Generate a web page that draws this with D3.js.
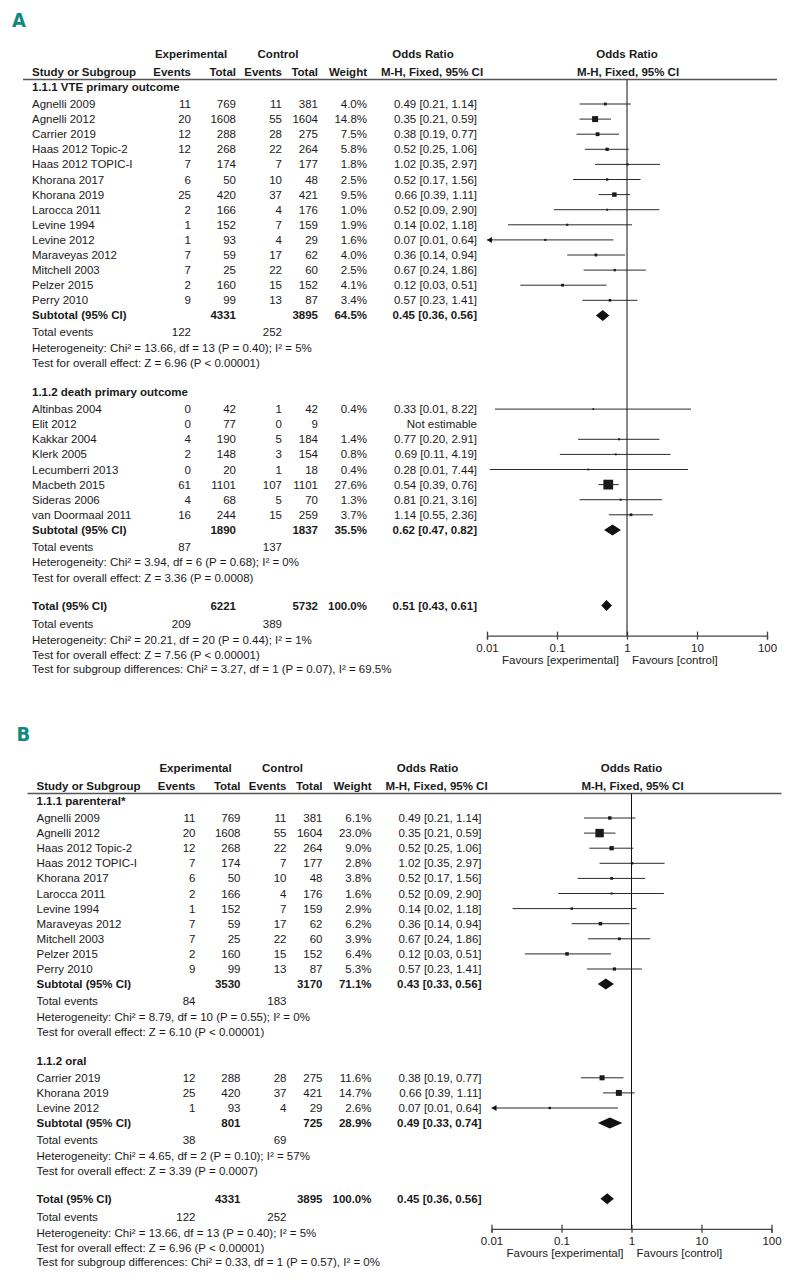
<!DOCTYPE html>
<html>
<head>
<meta charset="utf-8">
<script src="https://cdn.jsdelivr.net/npm/d3@7"></script>
<style>
  body { margin: 0; background: #fff; }
  svg text { font-family: "Liberation Sans", Arial, sans-serif; font-size: 11.5px; fill: #1a1a1a; }
</style>
</head>
<body>
<div id="chart"></div>
<script>
// study rows: name, exp events, exp total, ctrl events, ctrl total, weight %, OR, lower, upper
const vteStudies = [
  ["Agnelli 2009", 11, 769, 11, 381, 4.0, 0.49, 0.21, 1.14],
  ["Agnelli 2012", 20, 1608, 55, 1604, 14.8, 0.35, 0.21, 0.59],
  ["Carrier 2019", 12, 288, 28, 275, 7.5, 0.38, 0.19, 0.77],
  ["Haas 2012 Topic-2", 12, 268, 22, 264, 5.8, 0.52, 0.25, 1.06],
  ["Haas 2012 TOPIC-I", 7, 174, 7, 177, 1.8, 1.02, 0.35, 2.97],
  ["Khorana 2017", 6, 50, 10, 48, 2.5, 0.52, 0.17, 1.56],
  ["Khorana 2019", 25, 420, 37, 421, 9.5, 0.66, 0.39, 1.11],
  ["Larocca 2011", 2, 166, 4, 176, 1.0, 0.52, 0.09, 2.90],
  ["Levine 1994", 1, 152, 7, 159, 1.9, 0.14, 0.02, 1.18],
  ["Levine 2012", 1, 93, 4, 29, 1.6, 0.068, 0.007, 0.64],
  ["Maraveyas 2012", 7, 59, 17, 62, 4.0, 0.36, 0.14, 0.94],
  ["Mitchell 2003", 7, 25, 22, 60, 2.5, 0.67, 0.24, 1.86],
  ["Pelzer 2015", 2, 160, 15, 152, 4.1, 0.12, 0.03, 0.51],
  ["Perry 2010", 9, 99, 13, 87, 3.4, 0.57, 0.23, 1.41]
];
const vteSubtotal = [4331, 3895, 64.5, 0.45, 0.36, 0.56];
const vteEvents = [122, 252];
const vteStats = ["Heterogeneity: Chi² = 13.66, df = 13 (P = 0.40); I² = 5%",
                  "Test for overall effect: Z = 6.96 (P < 0.00001)"];

const deathStudies = [
  ["Altinbas 2004", 0, 42, 1, 42, 0.4, 0.33, 0.013, 8.22],
  ["Elit 2012", 0, 77, 0, 9, null, null, null, null],
  ["Kakkar 2004", 4, 190, 5, 184, 1.4, 0.77, 0.20, 2.91],
  ["Klerk 2005", 2, 148, 3, 154, 0.8, 0.69, 0.11, 4.19],
  ["Lecumberri 2013", 0, 20, 1, 18, 0.4, 0.28, 0.011, 7.44],
  ["Macbeth 2015", 61, 1101, 107, 1101, 27.6, 0.54, 0.39, 0.76],
  ["Sideras 2006", 4, 68, 5, 70, 1.3, 0.81, 0.21, 3.16],
  ["van Doormaal 2011", 16, 244, 15, 259, 3.7, 1.14, 0.55, 2.36]
];
const deathSubtotal = [1890, 1837, 35.5, 0.62, 0.47, 0.82];
const deathEvents = [87, 137];
const deathStats = ["Heterogeneity: Chi² = 3.94, df = 6 (P = 0.68); I² = 0%",
                    "Test for overall effect: Z = 3.36 (P = 0.0008)"];

const totalA = [6221, 5732, 100.0, 0.51, 0.43, 0.61];
const totalEventsA = [209, 389];
const totalStatsA = ["Heterogeneity: Chi² = 20.21, df = 20 (P = 0.44); I² = 1%",
                     "Test for overall effect: Z = 7.56 (P < 0.00001)",
                     "Test for subgroup differences: Chi² = 3.27, df = 1 (P = 0.07), I² = 69.5%"];

const parenteralStudies = [
  ["Agnelli 2009", 11, 769, 11, 381, 6.1, 0.49, 0.21, 1.14],
  ["Agnelli 2012", 20, 1608, 55, 1604, 23.0, 0.35, 0.21, 0.59],
  ["Haas 2012 Topic-2", 12, 268, 22, 264, 9.0, 0.52, 0.25, 1.06],
  ["Haas 2012 TOPIC-I", 7, 174, 7, 177, 2.8, 1.02, 0.35, 2.97],
  ["Khorana 2017", 6, 50, 10, 48, 3.8, 0.52, 0.17, 1.56],
  ["Larocca 2011", 2, 166, 4, 176, 1.6, 0.52, 0.09, 2.90],
  ["Levine 1994", 1, 152, 7, 159, 2.9, 0.14, 0.02, 1.18],
  ["Maraveyas 2012", 7, 59, 17, 62, 6.2, 0.36, 0.14, 0.94],
  ["Mitchell 2003", 7, 25, 22, 60, 3.9, 0.67, 0.24, 1.86],
  ["Pelzer 2015", 2, 160, 15, 152, 6.4, 0.12, 0.03, 0.51],
  ["Perry 2010", 9, 99, 13, 87, 5.3, 0.57, 0.23, 1.41]
];
const parenteralSubtotal = [3530, 3170, 71.1, 0.43, 0.33, 0.56];
const parenteralEvents = [84, 183];
const parenteralStats = ["Heterogeneity: Chi² = 8.79, df = 10 (P = 0.55); I² = 0%",
                         "Test for overall effect: Z = 6.10 (P < 0.00001)"];

const oralStudies = [
  ["Carrier 2019", 12, 288, 28, 275, 11.6, 0.38, 0.19, 0.77],
  ["Khorana 2019", 25, 420, 37, 421, 14.7, 0.66, 0.39, 1.11],
  ["Levine 2012", 1, 93, 4, 29, 2.6, 0.068, 0.007, 0.64]
];
const oralSubtotal = [801, 725, 28.9, 0.49, 0.33, 0.74];
const oralEvents = [38, 69];
const oralStats = ["Heterogeneity: Chi² = 4.65, df = 2 (P = 0.10); I² = 57%",
                   "Test for overall effect: Z = 3.39 (P = 0.0007)"];

const totalB = [4331, 3895, 100.0, 0.45, 0.36, 0.56];
const totalEventsB = [122, 252];
const totalStatsB = ["Heterogeneity: Chi² = 13.66, df = 13 (P = 0.40); I² = 5%",
                     "Test for overall effect: Z = 6.96 (P < 0.00001)",
                     "Test for subgroup differences: Chi² = 0.33, df = 1 (P = 0.57), I² = 0%"];

const axisTicks = [0.01, 0.1, 1, 10, 100];
const axisLabels = ["0.01", "0.1", "1", "10", "100"];

const panelA = {
  label: "A",
  groups: [
    {title: "1.1.1 VTE primary outcome", studies: vteStudies, subtotal: vteSubtotal, events: vteEvents, stats: vteStats},
    {title: "1.1.2 death primary outcome", studies: deathStudies, subtotal: deathSubtotal, events: deathEvents, stats: deathStats}
  ],
  total: totalA, totalEvents: totalEventsA, totalStats: totalStatsA
};
const panelB = {
  label: "B",
  groups: [
    {title: "1.1.1 parenteral*", studies: parenteralStudies, subtotal: parenteralSubtotal, events: parenteralEvents, stats: parenteralStats},
    {title: "1.1.2 oral", studies: oralStudies, subtotal: oralSubtotal, events: oralEvents, stats: oralStats}
  ],
  total: totalB, totalEvents: totalEventsB, totalStats: totalStatsB
};

var svg = d3.select("#chart")
  .append("svg")
    .attr("width", 789)
    .attr("height", 1284);
svg.append("rect").attr("width", 789).attr("height", 1284).attr("fill", "#fff");

var fmt2 = d3.format(".2f"), fmtW = d3.format(".1f");
var col = {name: 32, expEv: 191, expTot: 236, ctrlEv: 282, ctrlTot: 318, weight: 367, ci: 477};

function ciText(or, lo, hi) {
  return fmt2(or) + " [" + fmt2(lo) + ", " + fmt2(hi) + "]";
}

function drawPanel(p, dx, dy) {
  var g = svg.append("g").attr("transform", `translate(${dx}, ${dy})`);

  var x = d3.scaleLog().domain([0.01, 100]).range([487, 767]);
  var size = d3.scaleLinear().domain([0, 30]).range([1.6, 10.5]);

  function txt(str, xx, yy, anchor, bold) {
    g.append("text")
      .attr("x", xx).attr("y", yy).attr("dy", "0.35em")
      .attr("text-anchor", anchor || "start")
      .attr("font-weight", bold ? "bold" : null)
      .text(str);
  }

  // panel letter
  g.append("text")
    .attr("x", 12).attr("y", 27)
    .style("font-family", "'DejaVu Sans Condensed', 'DejaVu Sans', sans-serif")
    .style("font-size", "20px").style("font-weight", "bold")
    .style("fill", "#11897f")
    .text(p.label);

  // header
  txt("Experimental", 191, 54, "middle", true);
  txt("Control", 278, 54, "middle", true);
  txt("Odds Ratio", 423, 54, "middle", true);
  txt("Odds Ratio", 627, 54, "middle", true);
  txt("Study or Subgroup", col.name, 72, "start", true);
  txt("Events", col.expEv, 72, "end", true);
  txt("Total", col.expTot, 72, "end", true);
  txt("Events", col.ctrlEv, 72, "end", true);
  txt("Total", col.ctrlTot, 72, "end", true);
  txt("Weight", col.weight, 72, "end", true);
  txt("M-H, Fixed, 95% CI", 432, 72, "middle", true);
  txt("M-H, Fixed, 95% CI", 628, 72, "middle", true);
  g.append("line")
    .attr("x1", 23).attr("x2", 777).attr("y1", 79.5).attr("y2", 79.5)
    .attr("stroke", "#555").attr("stroke-width", 1.3);

  function summaryRow(label, s, y) {
    txt(label, col.name, y, "start", true);
    txt(s[0], col.expTot, y, "end", true);
    txt(s[1], col.ctrlTot, y, "end", true);
    txt(fmtW(s[2]) + "%", col.weight, y, "end", true);
    txt(ciText(s[3], s[4], s[5]), col.ci, y, "end", true);
    var h = 5.5;
    g.append("path")
      .attr("d", d3.line()([[x(s[4]), y], [x(s[3]), y - h], [x(s[5]), y], [x(s[3]), y + h]]) + "Z")
      .attr("fill", "#111");
  }

  var y = 87;
  p.groups.forEach(function(grp, gi) {
    if (gi > 0) y += 29;
    txt(grp.title, col.name, y, "start", true);
    y += 17;
    grp.studies.forEach(function(d, i) {
      if (i > 0) y += 15.1;
      txt(d[0], col.name, y);
      txt(d[1], col.expEv, y, "end");
      txt(d[2], col.expTot, y, "end");
      txt(d[3], col.ctrlEv, y, "end");
      txt(d[4], col.ctrlTot, y, "end");
      if (d[5] == null) {
        txt("Not estimable", col.ci, y, "end");
        return;
      }
      txt(fmtW(d[5]) + "%", col.weight, y, "end");
      txt(ciText(d[6], d[7], d[8]), col.ci, y, "end");
      var lo = Math.max(d[7], 0.01);
      g.append("line")
        .attr("x1", x(lo)).attr("x2", x(Math.min(d[8], 100)))
        .attr("y1", y).attr("y2", y)
        .attr("stroke", "#2a2a2a").attr("stroke-width", 1);
      if (d[7] < 0.01) {
        g.append("path")
          .attr("d", d3.line()([[x(0.01), y], [x(0.01) + 5, y - 3], [x(0.01) + 5, y + 3]]) + "Z")
          .attr("fill", "#111");
      }
      var s = size(d[5]);
      g.append("rect")
        .attr("x", x(d[6]) - s / 2).attr("y", y - s / 2)
        .attr("width", s).attr("height", s)
        .attr("fill", "#1a1a1a");
    });
    y += 15.1;
    summaryRow("Subtotal (95% CI)", grp.subtotal, y);
    y += 16.7;
    txt("Total events", col.name, y);
    txt(grp.events[0], col.expEv, y, "end");
    txt(grp.events[1], col.ctrlEv, y, "end");
    y += 15.8;
    txt(grp.stats[0], col.name, y);
    y += 15.2;
    txt(grp.stats[1], col.name, y);
  });

  y += 28;
  var totalY = y;
  summaryRow("Total (95% CI)", p.total, y);
  y += 18;
  txt("Total events", col.name, y);
  txt(p.totalEvents[0], col.expEv, y, "end");
  txt(p.totalEvents[1], col.ctrlEv, y, "end");
  y += 16;
  txt(p.totalStats[0], col.name, y);
  y += 15;
  txt(p.totalStats[1], col.name, y);
  y += 14.5;
  txt(p.totalStats[2], col.name, y);

  // axis
  var axisY = totalY + 30;
  var ax = g.append("g")
    .attr("transform", `translate(0, ${axisY})`)
    .call(d3.axisBottom(x).tickValues(axisTicks).tickFormat((d, i) => axisLabels[i]).tickSize(4).tickPadding(4));
  ax.select(".domain").attr("stroke", "#444").attr("stroke-width", 1.3);
  ax.selectAll(".tick line").attr("y1", -4).attr("stroke", "#444").attr("stroke-width", 1.3);
  ax.selectAll(".tick text").attr("font-family", null).attr("font-size", null).attr("fill", null);
  ax.attr("font-family", null).attr("font-size", null);

  // line of no effect
  g.append("line")
    .attr("x1", x(1)).attr("x2", x(1))
    .attr("y1", 79.5).attr("y2", axisY)
    .attr("stroke", "#111").attr("stroke-width", 1);

  txt("Favours [experimental]", x(1) - 8, axisY + 24, "end");
  txt("Favours [control]", x(1) + 5, axisY + 24, "start");
}

drawPanel(panelA, 0, 0);
drawPanel(panelB, 4.5, 714);
</script>
</body>
</html>
